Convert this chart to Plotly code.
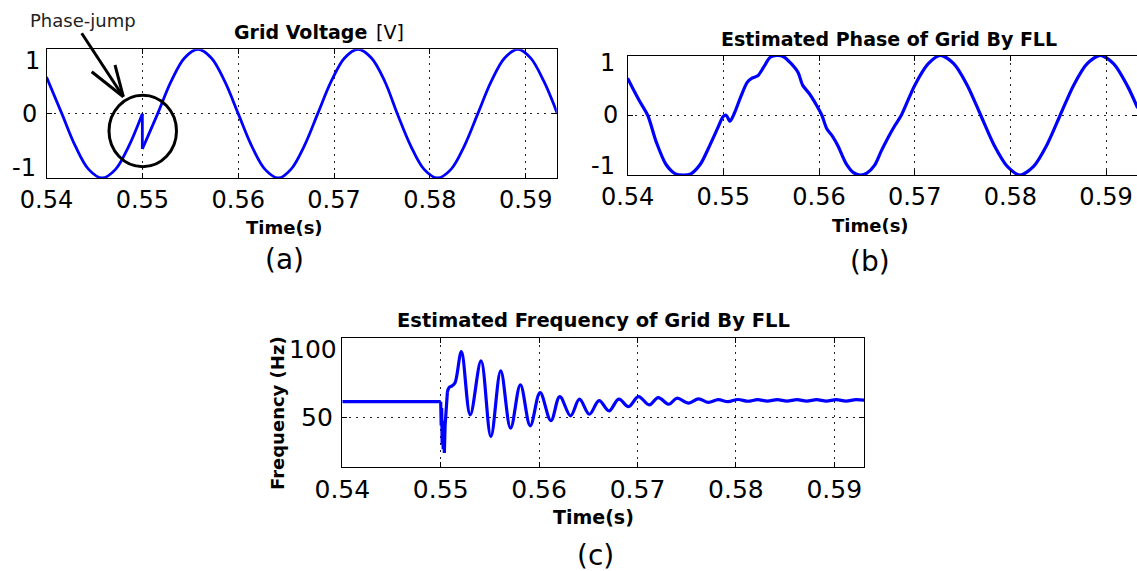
import plotly.graph_objects as go

W, H = 1137, 571

# ---------------- data ----------------
# (a) Grid voltage [V] (per-unit), phase jump at t = 0.55 s
va_pre_t = [0.5400, 0.5416, 0.5430, 0.5444, 0.5458, 0.5472, 0.5486, 0.5500]
va_pre_v = [0.57, 0.0, -0.5, -0.866, -1.0, -0.866, -0.5, 0.0]
va_jump_t = [0.5500, 0.5500]
va_jump_v = [0.0, -0.55]
va_post_t = [0.5500, 0.5516, 0.5530, 0.5544, 0.5558, 0.5572, 0.5586, 0.5600,
             0.5614, 0.5628, 0.5642, 0.5655, 0.5669, 0.5683, 0.5697, 0.5711,
             0.5725, 0.5739, 0.5753, 0.5766, 0.5780, 0.5794, 0.5808, 0.5822,
             0.5836, 0.5850, 0.5864, 0.5878, 0.5892, 0.5905, 0.5919, 0.5933]
va_post_v = [-0.55, 0.0, 0.5, 0.866, 1.0, 0.866, 0.5, 0.0,
             -0.5, -0.866, -1.0, -0.866, -0.5, 0.0, 0.5, 0.866,
             1.0, 0.866, 0.5, 0.0, -0.5, -0.866, -1.0, -0.866,
             -0.5, 0.0, 0.5, 0.866, 1.0, 0.866, 0.5, 0.0]

# (b) Estimated phase of grid by FLL
pb_t = [0.5400, 0.5407, 0.5412, 0.5421, 0.5430, 0.5440, 0.5450, 0.5458, 0.5466,
        0.5476, 0.5486, 0.5494, 0.5500, 0.5503, 0.5507, 0.5512, 0.5518, 0.5525,
        0.5530, 0.5536, 0.5542, 0.5549, 0.5556, 0.5563, 0.5570, 0.5578, 0.5583,
        0.5590, 0.5597, 0.5603, 0.5608, 0.5614, 0.5620, 0.5628, 0.5636, 0.5643,
        0.5650, 0.5658, 0.5665, 0.5672, 0.5679, 0.5686, 0.5700, 0.5714, 0.5727,
        0.5741, 0.5755, 0.5769, 0.5783, 0.5797, 0.5810, 0.5824, 0.5838, 0.5852,
        0.5866, 0.5880, 0.5894, 0.5908, 0.5922, 0.5933]
pb_v = [0.62, 0.40, 0.25, 0.00, -0.45, -0.82, -0.98, -1.00, -0.98,
        -0.82, -0.50, -0.22, -0.02, 0.00, -0.10, 0.05, 0.30, 0.55,
        0.62, 0.66, 0.80, 0.97, 1.00, 0.98, 0.88, 0.72, 0.50,
        0.36, 0.18, 0.00, -0.22, -0.35, -0.52, -0.80, -0.96, -1.00,
        -0.97, -0.84, -0.60, -0.38, -0.18, 0.00, 0.50, 0.86, 1.00,
        0.86, 0.50, 0.00, -0.50, -0.86, -1.00, -0.86, -0.50, 0.00,
        0.50, 0.86, 1.00, 0.86, 0.50, 0.12]

# (c) Estimated frequency of grid by FLL [Hz]
fc_flat_t = [0.5400, 0.5500]
fc_flat_v = [60.0, 60.0]
fc_spk_t = [0.5500, 0.55005, 0.5501, 0.55015, 0.5502, 0.55025, 0.5503, 0.55037,
            0.55045, 0.5506, 0.55068]
fc_spk_v = [60.0, 45.0, 56.0, 33.0, 48.0, 30.0, 42.0, 27.6, 45.0, 60.0, 66.0]
fc_osc_t = [0.55068, 0.55085, 0.55115, 0.55146, 0.5521, 0.5530, 0.5541, 0.5551,
            0.5561, 0.5571, 0.5581, 0.5591, 0.5601, 0.5612, 0.5621, 0.5632,
            0.5641, 0.5651, 0.5661, 0.5671, 0.5681, 0.5691, 0.5701, 0.5712,
            0.5721, 0.5732, 0.5740, 0.5752, 0.5762, 0.5772, 0.5782, 0.5792,
            0.5802, 0.5812, 0.5822, 0.5832, 0.5842, 0.5852, 0.5862, 0.5872,
            0.5882, 0.5892, 0.5902, 0.5912, 0.5922, 0.5932]
fc_osc_v = [66.0, 69.0, 70.0, 72.0, 91.6, 51.7, 85.7, 38.0,
            79.4, 43.3, 70.6, 44.8, 65.7, 48.1, 63.2, 51.1,
            61.6, 52.1, 60.7, 54.2, 61.6, 56.9, 63.2, 58.0,
            62.6, 58.4, 62.2, 59.1, 61.8, 59.6, 61.3, 60.0,
            61.4, 60.3, 61.3, 60.4, 61.3, 60.4, 61.3, 60.4,
            61.3, 60.4, 61.3, 60.4, 61.3, 60.8]

x_ticks = [0.54, 0.55, 0.56, 0.57, 0.58, 0.59]
x_ticktext = ["0.54", "0.55", "0.56", "0.57", "0.58", "0.59"]

BLUE = "#0000FF"
FONT = "DejaVu Sans"


def px(x):
    return x / W


def py(y):
    return 1 - y / H


fig = go.Figure()

# panel (a)
fig.add_trace(go.Scatter(x=va_pre_t, y=va_pre_v, mode="lines",
                         line=dict(color=BLUE, width=2.8, shape="spline"),
                         xaxis="x", yaxis="y"))
fig.add_trace(go.Scatter(x=va_jump_t, y=va_jump_v, mode="lines",
                         line=dict(color=BLUE, width=2.8), xaxis="x", yaxis="y"))
fig.add_trace(go.Scatter(x=va_post_t, y=va_post_v, mode="lines",
                         line=dict(color=BLUE, width=2.8, shape="spline"),
                         xaxis="x", yaxis="y"))
# panel (b)
fig.add_trace(go.Scatter(x=pb_t, y=pb_v, mode="lines",
                         line=dict(color=BLUE, width=3.2, shape="spline", smoothing=0.8),
                         xaxis="x2", yaxis="y2"))
# panel (c)
fig.add_trace(go.Scatter(x=fc_flat_t, y=fc_flat_v, mode="lines",
                         line=dict(color=BLUE, width=3.2), xaxis="x3", yaxis="y3"))
fig.add_trace(go.Scatter(x=fc_spk_t, y=fc_spk_v, mode="lines",
                         line=dict(color=BLUE, width=3.2), xaxis="x3", yaxis="y3"))
fig.add_trace(go.Scatter(x=fc_osc_t, y=fc_osc_v, mode="lines",
                         line=dict(color=BLUE, width=3.2, shape="spline"),
                         xaxis="x3", yaxis="y3"))

common_x = dict(tickmode="array", tickvals=x_ticks, ticktext=x_ticktext,
                showline=True, linecolor="black", linewidth=1, mirror="ticks",
                ticks="inside", ticklen=5, tickcolor="black", automargin=False,
                showgrid=True, gridcolor="#222222", gridwidth=1, griddash="2px,5px",
                zeroline=False, tickfont=dict(family=FONT, size=24, color="black"))
common_y = dict(showline=True, linecolor="black", linewidth=1, mirror="ticks",
                ticks="inside", ticklen=5, tickcolor="black", automargin=False,
                showgrid=True, gridcolor="#222222", gridwidth=1, griddash="2px,5px",
                zeroline=False, showticklabels=False)

fig.update_layout(
    width=W, height=H, autosize=False,
    margin=dict(l=0, r=0, t=0, b=0, pad=0, autoexpand=False),
    paper_bgcolor="white", plot_bgcolor="white", showlegend=False,
    xaxis=dict(common_x, domain=[px(46.5), px(556.7)], range=[0.54, 0.59323], anchor="y"),
    yaxis=dict(common_y, domain=[py(178), py(49.3)], range=[-1, 1],
               tickvals=[-1, 0, 1], anchor="x"),
    xaxis2=dict(common_x, domain=[px(627.6), 1.0], range=[0.54, 0.59323], anchor="y2"),
    yaxis2=dict(common_y, domain=[py(175), py(55.5)], range=[-1, 1],
                tickvals=[-1, 0, 1], anchor="x2"),
    xaxis3=dict(common_x, domain=[px(342.3), px(864)], range=[0.54, 0.59302], anchor="y3",
                tickfont=dict(family=FONT, size=25, color="black")),
    yaxis3=dict(common_y, domain=[py(466.7), py(338.3)], range=[19, 100],
                tickvals=[50, 100], anchor="x3"),
)

ann = []


def text(x, y, s, size, bold=False, **kw):
    ann.append(dict(xref="paper", yref="paper", x=px(x), y=py(y),
                    text=("<b>%s</b>" % s) if bold else s, showarrow=False,
                    font=dict(family=FONT, size=size, color=kw.pop("color", "black")),
                    xanchor=kw.pop("xanchor", "center"), yanchor="middle", **kw))


# y tick labels (extreme labels sit slightly inside the box, as in the original)
def ytl(axis, val, label, gap, shift, size):
    ann.append(dict(xref="%s domain" % axis.replace("y", "x"), yref=axis, x=0, y=val,
                    text=label, showarrow=False, xanchor="right", yanchor="middle",
                    xshift=-gap, yshift=shift,
                    font=dict(family=FONT, size=size, color="black")))


ytl("y", 1, "1", 5, -12, 24)
ytl("y", 0, "0", 8, 0, 24)
ytl("y", -1, "-1", 9, 10, 24)
ytl("y2", 1, "1", 11, -7, 24)
ytl("y2", 0, "0", 8, 0, 24)
ytl("y2", -1, "-1", 11, 9, 24)
ytl("y3", 100, "100", 3, -11, 25)
ytl("y3", 50, "50", 7, 0, 25)

# titles, axis titles, panel labels
text(369, 32, "Grid Voltage", 19, bold=True, xanchor="right")
text(374, 32, "[V]", 19, xanchor="left")
text(889, 38.5, "Estimated Phase of Grid By FLL", 19, bold=True)
text(593, 320, "Estimated Frequency of Grid By FLL", 19.5, bold=True)
text(284, 227, "Time(s)", 18, bold=True)
text(870, 226, "Time(s)", 18, bold=True)
text(593, 517, "Time(s)", 19, bold=True)
text(284, 260, "(a)", 28)
text(870, 261, "(b)", 28)
text(595, 555, "(c)", 28)
ann.append(dict(xref="paper", yref="paper", x=px(277), y=py(413), text="<b>Frequency (Hz)</b>",
                textangle=-90, showarrow=False, xanchor="center", yanchor="middle",
                font=dict(family=FONT, size=18, color="black")))
text(83, 20.7, "Phase-jump", 18, color="#222222")
fig.update_layout(annotations=ann)

# phase-jump marker: arrow and circle
shapes = []
for (x0, y0, x1, y1) in [(81.7, 33.3, 123.3, 96.7), (91.7, 71.7, 123.3, 96.7),
                         (115.0, 65.0, 123.3, 96.7)]:
    shapes.append(dict(type="line", xref="paper", yref="paper",
                       x0=px(x0), y0=py(y0), x1=px(x1), y1=py(y1),
                       line=dict(color="black", width=3)))
shapes.append(dict(type="circle", xref="paper", yref="paper",
                   x0=px(109), x1=px(176.5), y0=py(166.7), y1=py(95.3),
                   line=dict(color="black", width=3)))
fig.update_layout(shapes=shapes)

fig.write_html("out.html")
